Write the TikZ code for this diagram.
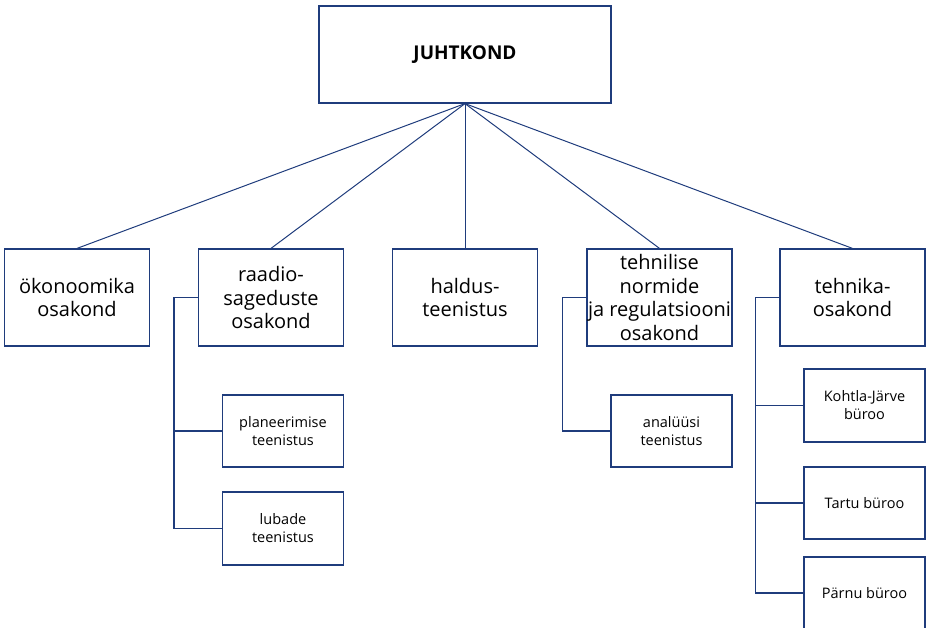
\documentclass[tikz,border=0pt]{standalone}
\usepackage{fontspec}
\setmainfont{Open Sans}
\usetikzlibrary{positioning,calc}
\definecolor{navy}{HTML}{1F3C7C}
\tikzstyle{block} = [draw=navy, line width=1.2pt, fill=white, rectangle, align=center, inner sep=1pt,
    minimum height=97pt, minimum width=145pt, font=\fontsize{20}{23.5}\selectfont]
\tikzstyle{subblock} = [block, minimum height=72pt, minimum width=121pt, font=\fontsize{14.5}{18}\selectfont]
\tikzstyle{branch} = [draw=navy, line width=1pt]
\tikzstyle{trunk} = [draw=navy, line width=1.8pt]

\begin{document}
\begin{tikzpicture}[x=1pt, y=-1pt, node distance=194pt]
        \useasboundingbox (0,0) rectangle (926,628);

        % first row
        \node [block] (okon) at (77,297.5) {ökonoomika\\osakond};
        \node [block, right of=okon] (raadio) {raadio-\\sageduste\\osakond};
        \node [block, right of=raadio] (haldus) {haldus-\\teenistus};
        \node [block, right of=haldus, node distance=194.5pt] (tnorm) {tehnilise\\normide\\ja regulatsiooni\\osakond};
        \node [block, right of=tnorm, node distance=193pt] (tehnika) {tehnika-\\osakond};
        \node [block, above of=haldus, node distance=243pt, minimum width=292pt,
            font=\fontsize{19}{22}\selectfont\bfseries] (juht) {JUHTKOND};

        % sub units
        \node [subblock] (plan) at (283,431) {planeerimise\\teenistus};
        \node [subblock, minimum height=73pt] (luba) at (283,528.5) {lubade\\teenistus};
        \node [subblock] (anal) at (671.5,431) {analüüsi\\teenistus};
        \node [subblock, minimum height=73pt] (kohtla) at (864.5,405.5) {Kohtla-Järve\\büroo};
        \node [subblock] (tartu) at (864.5,503) {Tartu büroo};
        \node [subblock] (parnu) at (864.5,593) {Pärnu büroo};

        \foreach \n in {okon,raadio,haldus,tnorm,tehnika}
            \draw [branch] (juht.south) -- (\n.north);

        \coordinate (rt) at ($(raadio.west)+(-24,0)$);
        \coordinate (nt) at ($(tnorm.west)+(-24,0)$);
        \coordinate (tt) at ($(tehnika.west)+(-24,0)$);

        \draw [trunk] (raadio.west) -- (rt) |- (luba.west);
        \draw [trunk] (rt |- plan.west) -- (plan.west);
        \draw [trunk] (tnorm.west) -- (nt) |- (anal.west);
        \draw [trunk] (tehnika.west) -- (tt) |- (parnu.west);
        \draw [trunk] (tt |- kohtla.west) -- (kohtla.west);
        \draw [trunk] (tt |- tartu.west) -- (tartu.west);
\end{tikzpicture}
\end{document}
